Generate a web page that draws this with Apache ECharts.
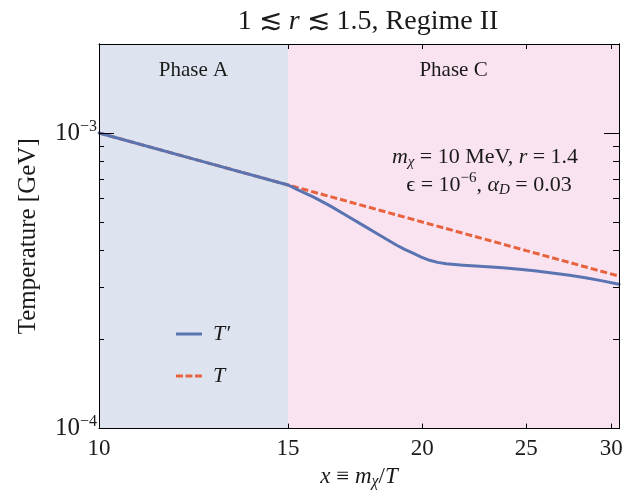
<!DOCTYPE html>
<html><head><meta charset="utf-8">
<script src="https://cdn.jsdelivr.net/npm/echarts@6/dist/echarts.min.js"></script>
<style>html,body{margin:0;padding:0;background:#fff}#c{width:632px;height:495px}</style>
</head><body><div id="c"></div>
<script>
// ---- data ----
const xTicks = [10, 15, 20, 25, 30];
const yMajorTicks = [1e-4, 1e-3];
const yMinorTicks = [2e-4, 3e-4, 4e-4, 5e-4, 6e-4, 7e-4, 8e-4, 9e-4, 2e-3];
const tPrimeX = [10, 12.5, 15, 15.27, 15.83, 16.40, 17.00, 17.62, 18.26, 18.92, 19.26, 19.61, 19.96, 20.32, 20.67, 21.06, 21.44, 21.83, 22.62, 23.76, 24.64, 25.55, 27.43, 28.38, 29.43, 30.5];
const tPrimeY = [1.0e-3, 8.0e-4, 6.67e-4, 6.46e-4, 6.08e-4, 5.68e-4, 5.26e-4, 4.87e-4, 4.51e-4, 4.18e-4, 4.04e-4, 3.92e-4, 3.80e-4, 3.71e-4, 3.65e-4, 3.61e-4, 3.59e-4, 3.57e-4, 3.54e-4, 3.50e-4, 3.46e-4, 3.41e-4, 3.30e-4, 3.24e-4, 3.16e-4, 3.08e-4];
const tX = [10, 15, 20, 25, 30.5];
const tY = [1.0e-3, 6.67e-4, 5.0e-4, 4.0e-4, 3.28e-4];
const phaseNames = ['Phase A', 'Phase C'];
const phaseBounds = [[10, 15], [15, 30.5]];
const xRange = [10, 30.5];
const yRange = [1e-4, 2e-3];

// ---- chart ----
const SERIF = "'Liberation Serif', 'DejaVu Serif', 'Times New Roman', serif";
const INK = '#1a1a1a';
const phaseColors = ['rgba(222,228,239,1)', 'rgba(250,227,240,1)'];
const BLUE = '#5a74b2', RED = '#e8623e';

function zip(a, b) { return a.map((v, i) => [v, b[i]]); }

function yAxisDef(pos, ticks, len, labels) {
  return {
    type: 'log', logBase: 10, min: yRange[0], max: yRange[1], position: pos, z: 10,
    axisLine: { show: true, lineStyle: { color: '#000', width: 1 } },
    axisTick: { show: true, inside: true, length: len, customValues: ticks, lineStyle: { color: '#000', width: 1 } },
    axisLabel: labels ? {
      show: true, customValues: ticks, margin: 2,
      formatter: v => '{b|10}{s|−' + Math.abs(Math.round(Math.log10(v))) + '}',
      rich: {
        b: { fontSize: 25, fontFamily: SERIF, color: INK },
        s: { fontSize: 16, fontFamily: SERIF, color: INK, padding: [0, 0, 13, 0] }
      }
    } : { show: false },
    splitLine: { show: false }, minorTick: { show: false }, minorSplitLine: { show: false }
  };
}

const chart = echarts.init(document.getElementById('c'), null, { renderer: 'canvas' });
chart.setOption({
  animation: false,
  backgroundColor: '#fff',
  title: {
    text: '{n|1 ≲ }{i|r}{n| ≲ 1.5, Regime II}',
    left: 363, top: 3, textAlign: 'center',
    textStyle: {
      fontWeight: 'normal',
      rich: {
        n: { fontSize: 28, fontFamily: SERIF, fontWeight: 'normal', color: INK },
        i: { fontSize: 28, fontFamily: SERIF, fontWeight: 'normal', fontStyle: 'italic', color: INK }
      }
    }
  },
  grid: { left: 99, right: 13, top: 44, bottom: 62, containLabel: false },
  legend: {
    orient: 'vertical', left: 171, top: 318,
    itemWidth: 26, itemHeight: 3, itemGap: 20,
    data: [
      { name: 'T′', icon: 'path://M0,0h26v3h-26z' },
      { name: 'T', icon: 'path://M0,0h7v3h-7z M9.5,0h7v3h-7z M19,0h7v3h-7z' }
    ],
    textStyle: { fontSize: 22, fontFamily: SERIF, fontStyle: 'italic', color: INK, padding: [0, 0, 0, 6] }
  },
  xAxis: [
    {
      type: 'log', logBase: 10, min: xRange[0], max: xRange[1], position: 'bottom', z: 10,
      axisLine: { show: true, lineStyle: { color: '#000', width: 1 } },
      axisTick: { show: true, inside: true, length: 5, customValues: xTicks, lineStyle: { color: '#000' } },
      axisLabel: { show: true, customValues: xTicks, margin: 9, fontSize: 23, fontFamily: SERIF, color: INK,
        formatter: v => String(Math.round(v)) },
      splitLine: { show: false },
      name: '{i|x}{n| ≡ }{i|m}{sub|χ}{n|/}{i|T}',
      nameLocation: 'middle', nameGap: 20,
      nameTextStyle: {
        rich: {
          n: { fontSize: 23, fontFamily: SERIF, color: INK },
          i: { fontSize: 23, fontFamily: SERIF, fontStyle: 'italic', color: INK },
          sub: { fontSize: 16, fontFamily: SERIF, fontStyle: 'italic', color: INK, padding: [10, 0, 0, 0] }
        }
      }
    },
    {
      type: 'log', logBase: 10, min: xRange[0], max: xRange[1], position: 'top', z: 10,
      axisLine: { show: true, lineStyle: { color: '#000', width: 1 } },
      axisTick: { show: true, inside: true, length: 5, customValues: xTicks, lineStyle: { color: '#000' } },
      axisLabel: { show: false }, splitLine: { show: false }
    }
  ],
  yAxis: [
    Object.assign(yAxisDef('left', yMajorTicks, 15, true), {
      name: 'Temperature [GeV]', nameLocation: 'middle', nameGap: 58,
      nameTextStyle: { fontSize: 25, fontFamily: SERIF, color: INK }
    }),
    yAxisDef('left', yMinorTicks, 5, false),
    yAxisDef('right', yMajorTicks, 15, false),
    yAxisDef('right', yMinorTicks, 6, false)
  ],
  graphic: [
    {
      type: 'text', x: 485, y: 157, z: 20,
      style: {
        text: '{i|m}{sub|χ}{n| = 10 MeV, }{i|r}{n| = 1.4}',
        textAlign: 'center', textVerticalAlign: 'middle',
        rich: {
          n: { fontSize: 22, fontFamily: SERIF, fill: INK },
          i: { fontSize: 22, fontFamily: SERIF, fontStyle: 'italic', fill: INK },
          sub: { fontSize: 15, fontFamily: SERIF, fontStyle: 'italic', fill: INK, padding: [10, 0, 0, 0] }
        }
      }
    },
    {
      type: 'text', x: 489, y: 185, z: 20,
      style: {
        text: '{n|ϵ = 10}{sup|−6}{n|, }{i|α}{sub|D}{n| = 0.03}',
        textAlign: 'center', textVerticalAlign: 'middle',
        rich: {
          n: { fontSize: 22, fontFamily: SERIF, fill: INK },
          i: { fontSize: 22, fontFamily: SERIF, fontStyle: 'italic', fill: INK },
          sup: { fontSize: 15, fontFamily: SERIF, fill: INK, padding: [0, 0, 13, 0] },
          sub: { fontSize: 15, fontFamily: SERIF, fontStyle: 'italic', fill: INK, padding: [10, 0, 0, 0] }
        }
      }
    }
  ],
  series: [
    {
      name: 'T', type: 'line', xAxisIndex: 0, yAxisIndex: 0, z: 3,
      data: zip(tX, tY), symbol: 'none',
      lineStyle: { color: RED, width: 3, type: [7, 3] },
      itemStyle: { color: RED },
      markArea: {
        silent: true,
        label: { show: true, position: 'insideTop', distance: 16, fontSize: 21, fontFamily: SERIF, color: INK },
        data: phaseBounds.map((b, i) => [
          { xAxis: b[0], name: phaseNames[i], itemStyle: { color: phaseColors[i] } },
          { xAxis: b[1] }
        ])
      }
    },
    {
      name: 'T′', type: 'line', xAxisIndex: 0, yAxisIndex: 0, z: 4,
      data: zip(tPrimeX, tPrimeY), symbol: 'none', smooth: false,
      lineStyle: { color: BLUE, width: 3, join: 'round', cap: 'round' },
      itemStyle: { color: BLUE }
    }
  ]
});
</script></body></html>
